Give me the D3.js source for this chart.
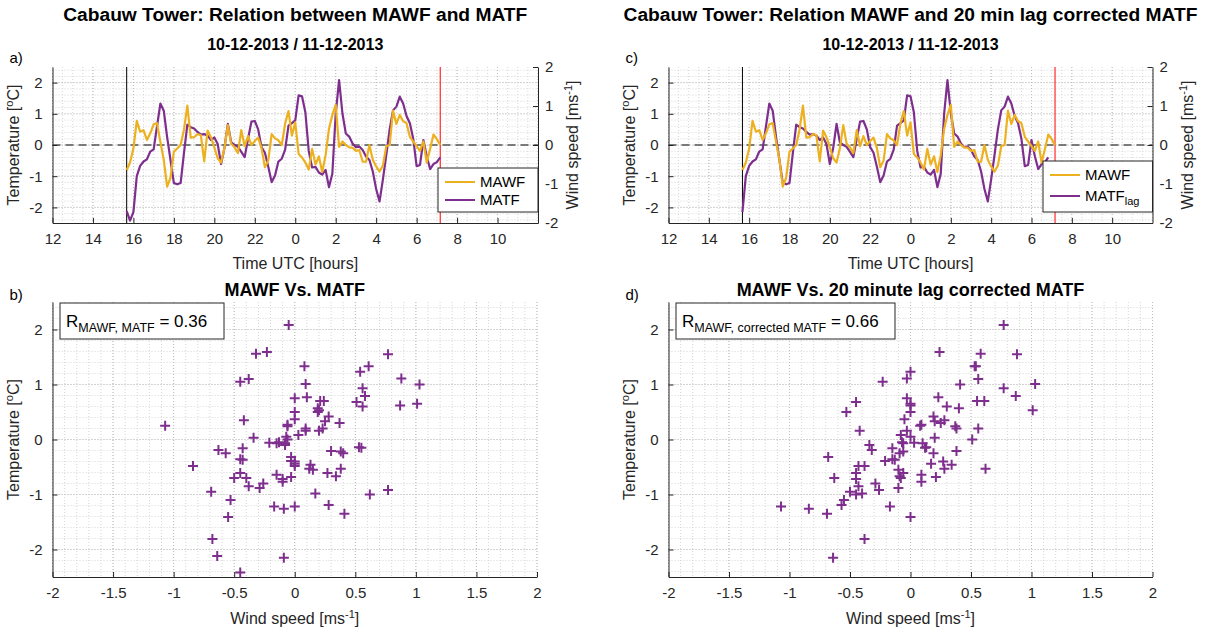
<!DOCTYPE html>
<html><head><meta charset="utf-8">
<script src="https://cdn.jsdelivr.net/npm/d3@7"></script>
<style>
body{margin:0;background:#fff}
svg{font-family:"Liberation Sans",Arial,Helvetica,sans-serif;display:block}
</style>
</head><body>
<svg id="fig" width="1218" height="632"></svg>
<script>
// ---------------- DATA ----------------
// 10-minute samples starting 15:40 UTC on 10-12-2013
const startHour = 15 + 40/60;
const stepHours = 10/60;
const lagSteps = 2; // 20 minute lag
// Moving-average wind fluctuation [m/s]
const mawf = [-0.64,-0.45,-0.09,0.62,0.34,0.38,0.13,0.30,0.53,0.56,
  0.08,-0.38,-1.07,-0.84,-0.17,-0.09,0.00,0.40,1.01,0.19,
  0.20,0.28,0.25,-0.42,0.37,0.20,-0.06,-0.34,-0.45,-0.08,
  0.51,0.03,-0.06,-0.21,0.38,-0.03,0.23,0.00,0.10,0.19,
  -0.08,-0.57,-0.40,0.28,0.17,0.12,0.00,0.55,0.87,0.24,
  0.58,-0.23,-0.32,-0.45,-0.63,-0.10,-0.50,-0.29,-0.69,-0.26,
  0.41,0.77,1.03,-0.05,0.09,0.00,-0.06,-0.07,-0.15,-0.13,
  -0.43,-0.43,0.00,-0.38,-0.55,-0.68,-0.53,-0.03,0.00,0.88,
  0.54,0.77,0.61,0.56,0.21,0.09,-0.03,-0.15,0.09,-0.45,
  -0.10,0.27,0.15,0.00];
// Moving-average temperature fluctuation [degC]
const matf = [-2.12,-2.42,-2.15,-1.00,-0.67,-0.53,-0.46,-0.21,-0.14,0.60,
  1.33,1.10,0.25,-0.48,-1.22,-1.26,-1.22,-0.25,0.65,0.57,
  0.53,0.42,0.33,0.35,0.30,0.16,0.24,0.03,-0.61,-0.10,
  0.68,0.08,0.00,-0.06,-0.22,-0.39,0.20,0.75,0.77,0.50,
  -0.07,-0.25,-0.70,-1.19,-0.98,-0.53,-0.44,-0.15,0.62,0.70,
  0.79,1.59,1.56,1.05,-0.19,-0.72,-0.70,-0.88,-0.95,-0.80,
  -1.35,-0.92,1.00,2.08,1.01,0.37,0.27,0.05,-0.07,-0.05,
  -0.16,-0.37,-0.48,-0.85,-1.41,-1.81,-1.10,-0.32,0.50,1.11,
  1.23,1.55,1.33,0.93,0.70,0.20,-0.68,-0.64,0.16,-0.36,
  -0.77,-0.61,-0.55,-0.40];
const timeTicks = [12,14,16,18,20,22,24,26,28,30,32,34];
const timeTickLabels = ["12","14","16","18","20","22","0","2","4","6","8","10"];
const tempTicks = [-2,-1,0,1,2];
const windTicks = [-2,-1,0,1,2];
const scatterXTicks = [-2,-1.5,-1,-0.5,0,0.5,1,1.5,2];
const scatterYTicks = [-2,-1,0,1,2];
const rValues = ["0.36","0.66"];
const colMAWF = "#EDB120", colMATF = "#7E2F8E";

// ---------------- DERIVED ----------------
const times = mawf.map((_, i) => startHour + i*stepHours);
const seriesMAWF = mawf.map((v,i)=>({t:times[i], v}));
const seriesMATF = matf.map((v,i)=>({t:times[i], v}));
const seriesLag = matf.slice(lagSteps).map((v,i)=>({t:times[i], v}));
const pairsRaw = mawf.map((w,i)=>({w, T:matf[i]}));
const pairsLag = matf.slice(lagSteps).map((T,i)=>({w:mawf[i], T}));

// ---------------- DRAW ----------------
const svg = d3.select("#fig");
const axisCol = "#262626";
const FONT_TICK = 15, FONT_LAB = 16;
const fmt = d => String(d);

function gridLines(g, xs, ys, xVals, yVals, x0, x1, y0, y1, cls){
  const c = cls==="maj"?"#bdbdbd":"#d6d6d6";
  g.selectAll(null).data(xVals).enter().append("line")
    .attr("x1",d=>xs(d)).attr("x2",d=>xs(d)).attr("y1",y0).attr("y2",y1)
    .attr("stroke",c).attr("stroke-width",1).attr("stroke-dasharray","1,2");
  g.selectAll(null).data(yVals).enter().append("line")
    .attr("y1",d=>ys(d)).attr("y2",d=>ys(d)).attr("x1",x0).attr("x2",x1)
    .attr("stroke",c).attr("stroke-width",1).attr("stroke-dasharray","1,2");
}
function rng(a,b,s){const r=[];for(let v=a;v<=b+1e-9;v+=s)r.push(+v.toFixed(4));return r;}

function styleAxis(g){
  g.select(".domain").attr("stroke",axisCol).attr("stroke-width",1);
  g.selectAll(".tick line").attr("stroke",axisCol);
  g.selectAll(".tick text").attr("fill",axisCol).attr("font-size",FONT_TICK)
    .attr("font-family","Liberation Sans, Arial, sans-serif");
}
function tempLabel(g, x, y){
  const t = g.append("text").attr("transform",`translate(${x},${y}) rotate(-90)`)
    .attr("text-anchor","middle").attr("font-size",FONT_LAB).attr("fill",axisCol);
  t.append("tspan").text("Temperature [");
  t.append("tspan").text("o").attr("font-size",11).attr("dy",-6);
  t.append("tspan").text("C]").attr("dy",6);
}
function windLabel(g, x, y, rotate){
  const t = g.append("text").attr("transform",`translate(${x},${y}) rotate(${rotate})`)
    .attr("text-anchor","middle").attr("font-size",FONT_LAB).attr("fill",axisCol);
  t.append("tspan").text("Wind speed [ms");
  t.append("tspan").text("-1").attr("font-size",11).attr("dy",-6);
  t.append("tspan").text("]").attr("dy",6);
}

function timePanel(P, lagged, title, letter){
  const g = svg.append("g");
  const xs = d3.scaleLinear([12,36],[P.x0,P.x1]);
  const yL = d3.scaleLinear([-2.5,2.5],[P.y1,P.y0]);
  const yR = d3.scaleLinear([-2,2],[P.y1,P.y0]);
  gridLines(g, xs, yL, rng(12,36,0.5), rng(-2.4,2.4,0.2), P.x0,P.x1,P.y0,P.y1,"min");
  gridLines(g, xs, yL, rng(12,36,2), tempTicks, P.x0,P.x1,P.y0,P.y1,"maj");
  g.append("line").attr("x1",P.x0).attr("x2",P.x1).attr("y1",yR(0)).attr("y2",yR(0))
    .attr("stroke","#555").attr("stroke-width",1.6).attr("stroke-dasharray","8,5");
  g.append("line").attr("x1",xs(times[0])).attr("x2",xs(times[0])).attr("y1",P.y0).attr("y2",P.y1)
    .attr("stroke","#000").attr("stroke-width",1);
  g.append("line").attr("x1",xs(times[times.length-1])).attr("x2",xs(times[times.length-1]))
    .attr("y1",P.y0).attr("y2",P.y1).attr("stroke","#ff0000").attr("stroke-width",1);
  const lineL = d3.line().x(d=>xs(d.t)).y(d=>yL(d.v));
  const lineR = d3.line().x(d=>xs(d.t)).y(d=>yR(d.v));
  g.append("path").datum(lagged?seriesLag:seriesMATF).attr("d",lineL)
    .attr("fill","none").attr("stroke",colMATF).attr("stroke-width",2.2).attr("stroke-linejoin","round");
  g.append("path").datum(seriesMAWF).attr("d",lineR)
    .attr("fill","none").attr("stroke",colMAWF).attr("stroke-width",2.2).attr("stroke-linejoin","round");
  const ax = g.append("g").attr("transform",`translate(0,${P.y1})`)
    .call(d3.axisBottom(xs).tickValues(timeTicks).tickFormat((d,i)=>timeTickLabels[i])
      .tickSizeInner(-5).tickSizeOuter(0).tickPadding(10));
  styleAxis(ax);
  const al = g.append("g").attr("transform",`translate(${P.x0},0)`)
    .call(d3.axisLeft(yL).tickValues(tempTicks).tickFormat(fmt).tickSizeInner(-5).tickSizeOuter(0).tickPadding(10));
  styleAxis(al);
  const ar = g.append("g").attr("transform",`translate(${P.x1},0)`)
    .call(d3.axisRight(yR).tickValues(windTicks).tickFormat(fmt).tickSizeInner(-5).tickSizeOuter(0).tickPadding(7));
  styleAxis(ar);
  g.append("text").attr("x",(P.x0+P.x1)/2).attr("y",P.y1+46).attr("text-anchor","middle")
    .attr("font-size",FONT_LAB).attr("fill",axisCol).text("Time UTC [hours]");
  tempLabel(g, P.x0-34, (P.y0+P.y1)/2);
  windLabel(g, P.x1+40, (P.y0+P.y1)/2, -90);
  g.append("text").attr("x",(P.x0+P.x1)/2).attr("y",21).attr("text-anchor","middle")
    .attr("font-size",19.2).attr("font-weight","bold").attr("fill","#000").text(title);
  g.append("text").attr("x",(P.x0+P.x1)/2).attr("y",50).attr("text-anchor","middle")
    .attr("font-size",16).attr("font-weight","bold").attr("fill","#000").text("10-12-2013 / 11-12-2013");
  g.append("text").attr("x",P.x0-43).attr("y",63).attr("font-size",15).attr("fill","#000").text(letter);
  const L = P.legend;
  g.append("rect").attr("x",L.x).attr("y",L.y).attr("width",L.w).attr("height",L.h)
    .attr("fill","#fff").attr("stroke",axisCol).attr("stroke-width",1);
  const items = [{c:colMAWF, name:"MAWF"},{c:colMATF, name:"MATF", sub: lagged?"lag":null}];
  items.forEach((it,k)=>{
    const yy = L.y + L.rows[k];
    g.append("line").attr("x1",L.x+7).attr("x2",L.x+37).attr("y1",yy).attr("y2",yy)
      .attr("stroke",it.c).attr("stroke-width",2);
    const t = g.append("text").attr("x",L.x+42).attr("y",yy+5).attr("font-size",15).attr("fill","#000");
    t.append("tspan").text(it.name);
    if(it.sub) t.append("tspan").text(it.sub).attr("font-size",11).attr("dy",4);
  });
}

function scatterPanel(P, pairs, title, letter, rSub, rVal){
  const g = svg.append("g");
  const xs = d3.scaleLinear([-2,2],[P.x0,P.x1]);
  const ys = d3.scaleLinear([-2.5,2.5],[P.y1,P.y0]);
  gridLines(g, xs, ys, rng(-2,2,0.1), rng(-2.4,2.4,0.2), P.x0,P.x1,P.y0,P.y1,"min");
  gridLines(g, xs, ys, scatterXTicks, scatterYTicks, P.x0,P.x1,P.y0,P.y1,"maj");
  const ax = g.append("g").attr("transform",`translate(0,${P.y1})`)
    .call(d3.axisBottom(xs).tickValues(scatterXTicks).tickFormat(fmt)
      .tickSizeInner(-5).tickSizeOuter(0).tickPadding(10));
  styleAxis(ax);
  const al = g.append("g").attr("transform",`translate(${P.x0},0)`)
    .call(d3.axisLeft(ys).tickValues(scatterYTicks).tickFormat(fmt).tickSizeInner(-5).tickSizeOuter(0).tickPadding(10));
  styleAxis(al);
  const s = 5;
  g.selectAll(null).data(pairs).enter().append("path")
    .attr("d",d=>{const x=xs(d.w), y=ys(d.T);return `M${x-s},${y}H${x+s}M${x},${y-s}V${y+s}`;})
    .attr("stroke",colMATF).attr("stroke-width",2).attr("fill","none");
  const xl = g.append("text").attr("x",(P.x0+P.x1)/2).attr("y",P.y1+47).attr("text-anchor","middle")
    .attr("font-size",FONT_LAB).attr("fill",axisCol);
  xl.append("tspan").text("Wind speed [ms");
  xl.append("tspan").text("-1").attr("font-size",11).attr("dy",-6);
  xl.append("tspan").text("]").attr("dy",6);
  tempLabel(g, P.x0-34, (P.y0+P.y1)/2);
  g.append("text").attr("x",(P.x0+P.x1)/2).attr("y",P.y0-6).attr("text-anchor","middle")
    .attr("font-size",18).attr("font-weight","bold").attr("fill","#000").text(title);
  g.append("text").attr("x",P.x0-43).attr("y",P.y0-2).attr("font-size",15).attr("fill","#000").text(letter);
  const A = P.ann;
  g.append("rect").attr("x",A.x).attr("y",A.y).attr("width",A.w).attr("height",A.h)
    .attr("fill","#fff").attr("stroke",axisCol).attr("stroke-width",1);
  const t = g.append("text").attr("x",A.x+6).attr("y",A.y+24).attr("font-size",17).attr("fill","#000");
  t.append("tspan").text("R");
  t.append("tspan").text(rSub).attr("font-size",12.5).attr("dy",5);
  t.append("tspan").text(" = "+rVal).attr("dy",-5);
}

const PA = {x0:52.5,x1:538,y0:67,y1:223, legend:{x:438,y:168,w:100,h:44,rows:[14,32]}};
const PC = {x0:668.5,x1:1152.5,y0:67,y1:223, legend:{x:1043,y:161,w:109.5,h:51,rows:[14,35]}};
const PB = {x0:52.5,x1:537,y0:302,y1:577, ann:{x:60,y:303,w:164,h:36}};
const PD = {x0:668.5,x1:1152.5,y0:302,y1:577, ann:{x:676,y:303,w:219,h:36}};

timePanel(PA,false,"Cabauw Tower: Relation between MAWF and MATF","a)");
timePanel(PC,true,"Cabauw Tower: Relation MAWF and 20 min lag corrected MATF","c)");
scatterPanel(PB,pairsRaw,"MAWF Vs. MATF","b)","MAWF, MATF",rValues[0]);
scatterPanel(PD,pairsLag,"MAWF Vs. 20 minute lag corrected MATF","d)","MAWF, corrected MATF",rValues[1]);
</script>
</body></html>
